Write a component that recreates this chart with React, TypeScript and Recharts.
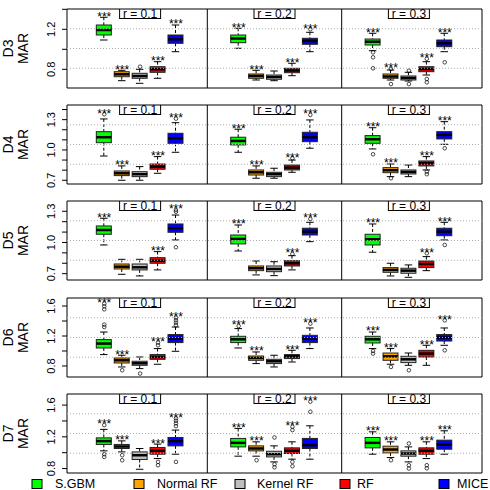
import React from "react";
import {
  Bar,
  ComposedChart,
  ReferenceArea,
  ReferenceLine,
  Scatter,
  XAxis,
  YAxis,
} from "recharts";

const methods = ["S.GBM", "Normal RF", "Kernel RF", "RF", "MICE"];
const methodColors = ["#00ff00", "#ffa500", "#bebebe", "#ff0000", "#0000ff"];
const rates = ["r = 0.1", "r = 0.2", "r = 0.3"];
const rowNames = ["D3", "D4", "D5", "D6", "D7"];

// [lower whisker, q1, median, q3, upper whisker] for r = 0.1 | 0.2 | 0.3, methods in legend order
const d3Boxes = [
  [1.093, 1.143, 1.193, 1.243, 1.32], [0.686, 0.726, 0.75, 0.776, 0.79], [0.66, 0.71, 0.733, 0.76, 0.8], [0.71, 0.77, 0.8, 0.826, 0.876], [0.976, 1.06, 1.1, 1.143, 1.243],
  [1.01, 1.066, 1.108, 1.143, 1.21], [0.693, 0.71, 0.733, 0.753, 0.79], [0.686, 0.7, 0.723, 0.743, 0.783], [0.736, 0.766, 0.788, 0.81, 0.86], [0.976, 1.05, 1.083, 1.11, 1.17],
  [0.986, 1.043, 1.076, 1.103, 1.16], [0.693, 0.71, 0.728, 0.753, 0.793], [0.683, 0.693, 0.713, 0.733, 0.77], [0.743, 0.776, 0.803, 0.826, 0.876], [0.976, 1.026, 1.06, 1.093, 1.16],
];
const d3Outliers = [
  [], [], [0.826], [], [],
  [], [], [], [], [1.2],
  [0.97, 0.92, 0.81], [0.652, 0.803], [0.786, 0.652], [0.905, 0.703, 0.67], [0.87],
];
const d3Stars = ["***", "***", "", "***", "***", "***", "***", "", "***", "***", "***", "***", "", "***", "***"];

const d4Boxes = [
  [0.94, 1.072, 1.126, 1.181, 1.307], [0.7, 0.746, 0.769, 0.792, 0.842], [0.7, 0.736, 0.76, 0.785, 0.835], [0.769, 0.809, 0.835, 0.861, 0.934], [0.977, 1.066, 1.116, 1.165, 1.27],
  [0.977, 1.05, 1.089, 1.126, 1.205], [0.72, 0.752, 0.779, 0.802, 0.842], [0.72, 0.736, 0.76, 0.779, 0.819], [0.779, 0.802, 0.825, 0.851, 0.9], [1.017, 1.082, 1.126, 1.175, 1.297],
  [1.01, 1.066, 1.106, 1.142, 1.22], [0.736, 0.775, 0.799, 0.825, 0.861], [0.736, 0.762, 0.782, 0.802, 0.851], [0.802, 0.842, 0.868, 0.891, 0.934], [1.056, 1.109, 1.149, 1.181, 1.28],
];
const d4Outliers = [
  [1.353], [], [], [], [1.31],
  [], [], [], [0.918], [1.347],
  [0.957], [0.72], [], [0.785, 0.76], [1.017],
];
const d4Stars = ["***", "***", "", "***", "***", "***", "***", "", "***", "***", "***", "***", "", "***", "***"];

const d5Boxes = [
  [0.976, 1.079, 1.12, 1.159, 1.233], [0.694, 0.745, 0.767, 0.793, 0.838], [0.678, 0.736, 0.761, 0.793, 0.838], [0.736, 0.8, 0.825, 0.854, 0.912], [1.024, 1.098, 1.137, 1.178, 1.264],
  [0.918, 0.986, 1.034, 1.072, 1.168], [0.688, 0.729, 0.752, 0.774, 0.822], [0.681, 0.719, 0.745, 0.774, 0.815], [0.736, 0.774, 0.8, 0.825, 0.873], [1.008, 1.072, 1.104, 1.137, 1.194],
  [0.906, 0.976, 1.031, 1.079, 1.178], [0.678, 0.713, 0.736, 0.758, 0.8], [0.665, 0.704, 0.729, 0.752, 0.784], [0.729, 0.758, 0.793, 0.822, 0.864], [1.024, 1.065, 1.104, 1.137, 1.194],
];
const d5Outliers = [
  [], [], [], [], [1.312, 1.296, 0.954],
  [], [], [], [0.889], [1.226],
  [], [], [], [0.896], [0.976],
];
const d5Stars = ["***", "", "", "***", "***", "***", "", "", "***", "***", "***", "", "", "***", "***"];

const d6Boxes = [
  [0.952, 1.04, 1.099, 1.152, 1.253], [0.787, 0.84, 0.876, 0.907, 0.943], [0.765, 0.809, 0.836, 0.863, 0.92], [0.823, 0.889, 0.92, 0.952, 1.032], [0.996, 1.112, 1.165, 1.219, 1.32],
  [1.04, 1.112, 1.156, 1.196, 1.299], [0.832, 0.876, 0.907, 0.933, 0.987], [0.787, 0.832, 0.863, 0.889, 0.943], [0.853, 0.899, 0.929, 0.952, 1.009], [1.032, 1.112, 1.165, 1.209, 1.307],
  [1.032, 1.107, 1.156, 1.196, 1.253], [0.823, 0.876, 0.929, 0.973, 1.032], [0.809, 0.845, 0.889, 0.929, 0.973], [0.809, 0.92, 0.965, 1.009, 1.076], [1.076, 1.133, 1.179, 1.219, 1.307],
];
const d6Outliers = [
  [1.32, 1.352, 1.556, 1.596, 1.632], [0.743], [0.699], [1.076, 1.112], [1.343, 1.378, 1.409, 1.445],
  [1.333], [], [], [], [1.365],
  [1.0, 0.965], [0.787], [0.743], [], [1.009, 1.409],
];
const d6Stars = ["***", "***", "", "***", "***", "***", "***", "", "***", "***", "***", "***", "", "***", "***"];

const d7Boxes = [
  [1.023, 1.104, 1.146, 1.187, 1.294], [1.01, 1.053, 1.078, 1.104, 1.149], [0.791, 0.914, 0.968, 1.01, 1.053], [0.926, 0.981, 1.023, 1.066, 1.108], [0.981, 1.086, 1.146, 1.192, 1.285],
  [0.956, 1.073, 1.124, 1.18, 1.306], [0.956, 1.023, 1.053, 1.086, 1.137], [0.884, 0.947, 0.981, 1.018, 1.086], [0.918, 0.99, 1.023, 1.061, 1.137], [0.918, 1.053, 1.095, 1.18, 1.339],
  [0.981, 1.061, 1.124, 1.192, 1.263], [0.939, 0.998, 1.04, 1.082, 1.137], [0.884, 0.956, 0.99, 1.023, 1.073], [0.926, 0.981, 1.023, 1.061, 1.137], [0.981, 1.044, 1.104, 1.158, 1.276],
];
const d7Outliers = [
  [1.348, 0.981, 0.947], [0.968, 0.905], [], [0.884, 0.842], [1.335, 1.37, 1.403, 1.433, 0.884],
  [], [0.905], [1.192, 0.854, 0.816], [1.327, 1.285, 0.884, 0.829], [1.516, 1.643],
  [], [0.905], [1.116, 0.842, 0.8], [0.842, 0.804], [],
];
const d7Stars = ["***", "***", "", "***", "***", "***", "***", "", "***", "***", "***", "***", "", "***", "***"];

const d3Domain = [0.613, 1.403];
const d4Domain = [0.663, 1.445];
const d5Domain = [0.639, 1.399];
const d6Domain = [0.653, 1.707];
const d7Domain = [0.744, 1.74];

const d3Ticks = [0.8, 1.0, 1.2, 1.4];
const d4Ticks = [0.7, 0.8, 0.9, 1.0, 1.1, 1.2, 1.3, 1.4];
const d5Ticks = [0.7, 0.8, 0.9, 1.0, 1.1, 1.2, 1.3];
const d6Ticks = [0.8, 1.0, 1.2, 1.4, 1.6];
const d7Ticks = [0.8, 1.0, 1.2, 1.4, 1.6];

const d3Labels = [0.8, 1.2];
const d4Labels = [0.7, 1.0, 1.3];
const d5Labels = [0.7, 1.0, 1.3];
const d6Labels = [0.8, 1.2, 1.6];
const d7Labels = [0.8, 1.2, 1.6];

const rows = [
  { boxes: d3Boxes, outliers: d3Outliers, stars: d3Stars, domain: d3Domain, ticks: d3Ticks, labels: d3Labels },
  { boxes: d4Boxes, outliers: d4Outliers, stars: d4Stars, domain: d4Domain, ticks: d4Ticks, labels: d4Labels },
  { boxes: d5Boxes, outliers: d5Outliers, stars: d5Stars, domain: d5Domain, ticks: d5Ticks, labels: d5Labels },
  { boxes: d6Boxes, outliers: d6Outliers, stars: d6Stars, domain: d6Domain, ticks: d6Ticks, labels: d6Labels },
  { boxes: d7Boxes, outliers: d7Outliers, stars: d7Stars, domain: d7Domain, ticks: d7Ticks, labels: d7Labels },
];

const FONT = "'Liberation Sans', Arial, Helvetica, sans-serif";
const X_DOMAIN = [-1.08, 22.08];
const ROW_TOP = [9, 105, 201, 298, 394];
const PLOT_H = 79;
const PAD = 8;
const LEGEND_BOX_X = [32, 134, 235, 340, 439];
const LEGEND_TEXT_X = [55, 157, 257, 357, 457];

// slot on the x axis: 5 boxes per rate, a 2.5 gap between rate groups
const slot = (i: number) => 1 + (i % 5) + 7.5 * Math.floor(i / 5);

const BoxShape = (props: any) => {
  const { x, y, width, height, payload } = props;
  const [lo, q1, med, q3, hi] = payload.stats;
  const py = (v: number) => y + (height * (hi - v)) / (hi - lo);
  const cx = x + width / 2;
  const half = width / 2;
  const cap = width / 4;
  return (
    <g>
      <line x1={cx} x2={cx} y1={py(hi)} y2={py(q3)} stroke="#000" strokeDasharray="3 2" />
      <line x1={cx} x2={cx} y1={py(q1)} y2={py(lo)} stroke="#000" strokeDasharray="3 2" />
      <line x1={cx - cap} x2={cx + cap} y1={py(hi)} y2={py(hi)} stroke="#000" />
      <line x1={cx - cap} x2={cx + cap} y1={py(lo)} y2={py(lo)} stroke="#000" />
      <rect x={cx - half} y={py(q3)} width={width} height={py(q1) - py(q3)} fill={payload.color} stroke="#222" />
      <line x1={cx - half} x2={cx + half} y1={py(med)} y2={py(med)} stroke="#000" strokeWidth={2.5} />
    </g>
  );
};

const OutlierShape = (props: any) => (
  <circle cx={props.cx} cy={props.cy} r={1.8} fill="none" stroke="#000" strokeWidth={0.7} />
);

const StarShape = (props: any) => (
  <text x={props.cx} y={props.cy + 3.4} textAnchor="middle" fontSize={12} fontFamily={FONT} fill="#000">
    {props.payload.text}
  </text>
);

const RateShape = (props: any) => (
  <g>
    <rect x={props.cx - 20.5} y={props.cy} width={41} height={9.5} fill="#fff" stroke="#000" />
    <text x={props.cx} y={props.cy + 8.7} textAnchor="middle" fontSize={12} fontFamily={FONT} fill="#000">
      {props.payload.text}
    </text>
  </g>
);

const makeTick = (labels: number[]) => (props: any) => {
  const { x, y, payload } = props;
  const show = labels.some((l) => Math.abs(l - payload.value) < 1e-6);
  if (!show) return <g />;
  return (
    <text x={x} y={y} transform={`rotate(-90, ${x}, ${y})`} textAnchor="middle" fontSize={11} fontFamily={FONT} fill="#000">
      {Number(payload.value).toFixed(1)}
    </text>
  );
};

const makeRowLabel = (name: string) => (props: any) => {
  const vb = props.viewBox || { y: PAD, height: PLOT_H };
  const cy = vb.y + vb.height / 2;
  return (
    <g fontFamily={FONT} fontSize={14} fill="#000">
      <text x={13} y={cy} transform={`rotate(-90, 13, ${cy})`} textAnchor="middle">{name}</text>
      <text x={27.5} y={cy} transform={`rotate(-90, 27.5, ${cy})`} textAnchor="middle">MAR</text>
    </g>
  );
};

function RowChart({ row, name }: { row: (typeof rows)[number]; name: string }) {
  const [lo, hi] = row.domain;
  const boxData = row.boxes.map((s, i) => ({
    pos: slot(i),
    range: [s[0], s[4]],
    stats: s,
    color: methodColors[i % 5],
  }));
  const outlierData = row.outliers.flatMap((list, i) => list.map((v) => ({ pos: slot(i), v })));
  const starData = row.stars
    .map((t, i) => ({ pos: slot(i), v: Math.max(row.boxes[i][4], ...row.outliers[i]), text: t }))
    .filter((d) => d.text !== "");
  const rateData = rates.map((t, g) => ({ pos: 3 + 7.5 * g, v: hi, text: t }));
  const grid = [1, 2, 3].map((k) => lo + ((hi - lo) * k) / 4);

  return (
    <ComposedChart width={490} height={PLOT_H + 2 * PAD} data={boxData} margin={{ top: PAD, right: 8, bottom: PAD, left: 0 }}>
      <XAxis type="number" dataKey="pos" domain={X_DOMAIN} allowDataOverflow hide />
      <YAxis
        type="number"
        domain={row.domain}
        allowDataOverflow
        ticks={row.ticks}
        interval={0}
        width={67}
        axisLine={false}
        tickSize={5}
        tickMargin={7}
        tickLine={{ stroke: "#000" }}
        tick={makeTick(row.labels)}
        label={{ content: makeRowLabel(name) }}
      />
      {grid.map((g) => (
        <ReferenceLine key={g} y={g} stroke="#b0b0b0" strokeDasharray="1 2" />
      ))}
      <ReferenceLine x={6.75} stroke="#000" />
      <ReferenceLine x={14.25} stroke="#000" />
      <Bar dataKey="range" barSize={15} shape={BoxShape} isAnimationActive={false} />
      <Scatter data={outlierData} dataKey="v" shape={OutlierShape} isAnimationActive={false} />
      <Scatter data={starData} dataKey="v" shape={StarShape} isAnimationActive={false} />
      <Scatter data={rateData} dataKey="v" shape={RateShape} isAnimationActive={false} />
      <ReferenceArea x1={X_DOMAIN[0]} x2={X_DOMAIN[1]} y1={lo} y2={hi} fill="none" stroke="#000" ifOverflow="visible" />
    </ComposedChart>
  );
}

export default function App() {
  return (
    <div style={{ position: "absolute", left: 0, top: 0, width: 490, height: 490, background: "#fff", overflow: "hidden" }}>
      {rows.map((row, r) => (
        <div key={r} style={{ position: "absolute", left: 0, top: ROW_TOP[r] - PAD }}>
          <RowChart row={row} name={rowNames[r]} />
        </div>
      ))}
      <svg style={{ position: "absolute", left: 0, top: 474 }} width={490} height={16}>
        {methods.map((m, i) => (
          <g key={m}>
            <rect x={LEGEND_BOX_X[i]} y={5.5} width={10} height={9} fill={methodColors[i]} stroke="#000" />
            <text x={LEGEND_TEXT_X[i]} y={13.5} fontSize={12.5} fontFamily={FONT} fill="#000">{m}</text>
          </g>
        ))}
      </svg>
    </div>
  );
}
